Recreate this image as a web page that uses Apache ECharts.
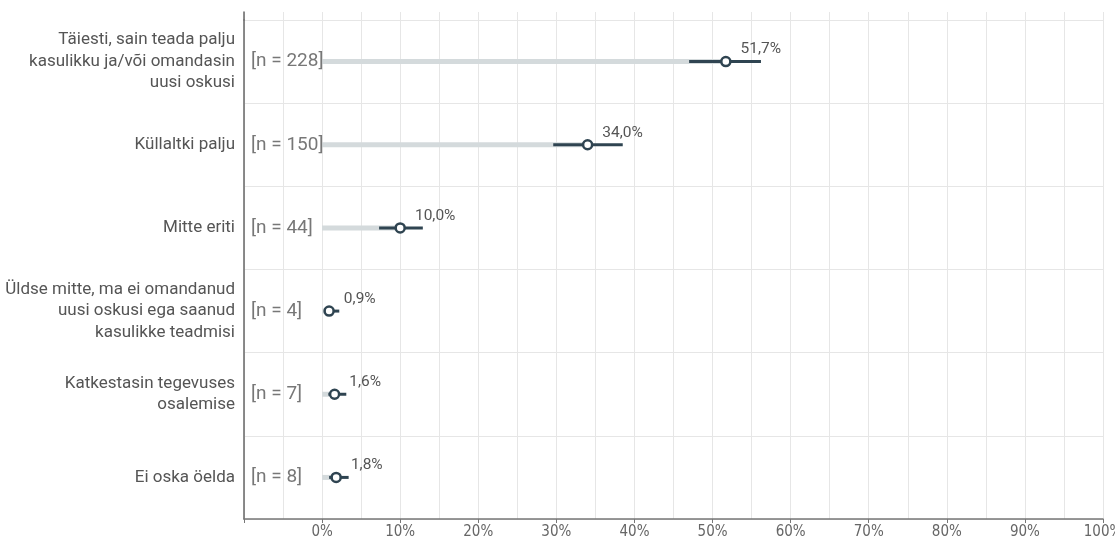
<!DOCTYPE html>
<html><head><meta charset="utf-8">
<script src="https://cdn.jsdelivr.net/npm/echarts@6/dist/echarts.min.js"></script>
<style>html,body{margin:0;padding:0;background:#fff}#c{width:1115px;height:550px}</style>
</head><body><div id="c"></div>
<script>
const categories = [
  "Täiesti, sain teada palju\nkasulikku ja/või omandasin\nuusi oskusi",
  "Küllaltki palju",
  "Mitte eriti",
  "Üldse mitte, ma ei omandanud\nuusi oskusi ega saanud\nkasulikke teadmisi",
  "Katkestasin tegevuses\nosalemise",
  "Ei oska öelda"
];
const nCounts = [228, 150, 44, 4, 7, 8];
const values = [51.7, 34.0, 10.0, 0.9, 1.6, 1.8];
const ciLow = [47.0, 29.6, 7.3, 0.35, 0.8, 0.9];
const ciHigh = [56.2, 38.5, 12.9, 2.2, 3.1, 3.4];
const xMin = -10, xMax = 100;

const dark = '#2f4451';
const chart = echarts.init(document.getElementById('c'));
const xCommon = {
  type: 'value', min: xMin, max: xMax, interval: 10,
  splitLine: {show: true, lineStyle: {color: '#e6e6e6', width: 1}},
  minorTick: {show: false, splitNumber: 2},
  minorSplitLine: {show: true, lineStyle: {color: '#e6e6e6', width: 1}}
};
chart.setOption({
  animation: false,
  grid: [
    {left: 244, right: 12, top: 20, bottom: 31, containLabel: false, outerBoundsMode: 'none'},
    {left: 244, right: 12, top: 12, height: 8, containLabel: false, outerBoundsMode: 'none'}
  ],
  xAxis: [
    Object.assign({}, xCommon, {
      gridIndex: 0,
      axisLine: {show: true, onZero: false, lineStyle: {color: '#777', width: 1.5}},
      axisTick: {show: true, length: 4, lineStyle: {color: '#777'}},
      axisLabel: {
        color: '#666', fontSize: 15, fontFamily: "'Liberation Sans Narrow', 'DejaVu Sans Condensed', sans-serif",
        margin: 6, hideOverlap: false,
        formatter: v => v < 0 ? '' : v + '%'
      }
    }),
    Object.assign({}, xCommon, {
      gridIndex: 1,
      axisLine: {show: false}, axisTick: {show: false}, axisLabel: {show: false}
    })
  ],
  yAxis: [
    {
      type: 'category', data: categories, inverse: true, gridIndex: 0,
      axisLine: {show: true, onZero: false, lineStyle: {color: '#666', width: 1.5}},
      axisTick: {show: false},
      splitLine: {show: true, lineStyle: {color: '#e6e6e6', width: 1}},
      axisLabel: {
        color: '#555', fontSize: 17, lineHeight: 21.5, align: 'right', margin: 9,
        fontFamily: 'Roboto, sans-serif'
      }
    },
    {
      type: 'category', data: [''], gridIndex: 1,
      axisLine: {show: true, onZero: false, lineStyle: {color: '#666', width: 1.5}},
      axisTick: {show: false}, axisLabel: {show: false}, splitLine: {show: false}
    }
  ],
  series: [
    {
      type: 'bar', barWidth: 5, data: values, xAxisIndex: 0, yAxisIndex: 0,
      itemStyle: {color: '#d4dadc'}, z: 2
    },
    {
      type: 'custom', xAxisIndex: 0, yAxisIndex: 0, z: 3,
      data: ciLow.map((l, i) => [l, ciHigh[i], i]),
      encode: {x: [0, 1], y: 2},
      renderItem: function (params, api) {
        const a = api.coord([api.value(0), api.value(2)]);
        const b = api.coord([api.value(1), api.value(2)]);
        return {type: 'line', shape: {x1: a[0], y1: a[1], x2: b[0], y2: b[1]},
          style: {stroke: dark, lineWidth: 3}};
      }
    },
    {
      type: 'scatter', xAxisIndex: 0, yAxisIndex: 0, z: 4,
      data: values.map((v, i) => [v, i]),
      symbol: 'circle', symbolSize: 9,
      itemStyle: {color: '#fff', borderColor: dark, borderWidth: 2.5, opacity: 1},
      label: {
        show: true, position: 'right', offset: [4, -12], distance: 5,
        color: '#555', fontSize: 15.5, fontFamily: 'Roboto, sans-serif',
        formatter: p => p.value[0].toFixed(1).replace('.', ',') + '%'
      }
    },
    {
      type: 'scatter', xAxisIndex: 0, yAxisIndex: 0, z: 5,
      data: nCounts.map((n, i) => [xMin, i]),
      symbolSize: 0, silent: true,
      label: {
        show: true, position: 'right', distance: 7,
        color: '#555', fontSize: 19, fontFamily: 'Roboto, sans-serif',
        formatter: p => '[n = ' + nCounts[p.dataIndex] + ']'
      }
    }
  ]
});
</script></body></html>
